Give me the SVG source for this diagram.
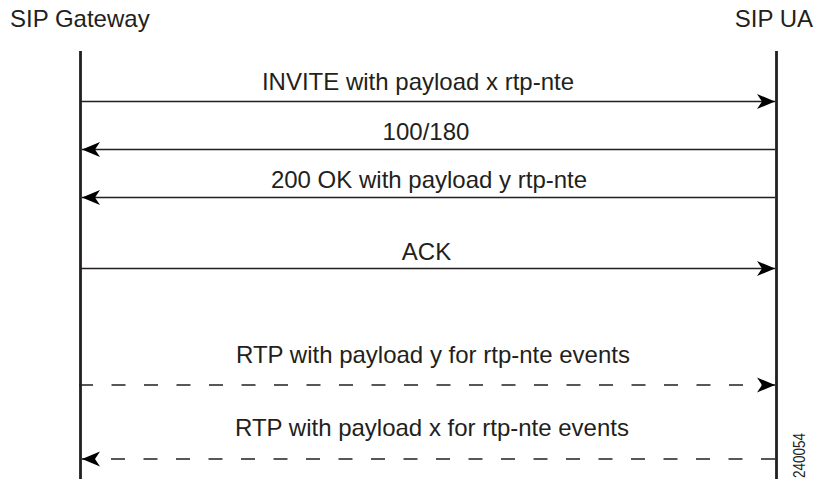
<svg xmlns="http://www.w3.org/2000/svg" width="814" height="480" viewBox="0 0 814 480">
<style>
text{font-family:"Liberation Sans",Arial,sans-serif;font-size:24px;fill:#231f20}
.life{stroke:#231f20;stroke-width:2.8;fill:none}
.msg{stroke:#231f20;stroke-width:1.6;fill:none}
.dash{stroke-dasharray:14 18.5}
.mid{text-anchor:middle}
</style>
<defs>
<marker id="ah" viewBox="0 0 18 16" refX="18" refY="8" markerWidth="18" markerHeight="16" markerUnits="userSpaceOnUse" orient="auto">
<path d="M18,8 L0,0.5 L5,8 L0,15.5 Z" fill="#000"/>
</marker>
</defs>
<g id="sip-gateway">
<text x="10" y="27">SIP Gateway</text>
<line class="life" x1="80.5" y1="51" x2="80.5" y2="479"/>
</g>
<g id="sip-ua">
<text x="813" y="27" text-anchor="end">SIP UA</text>
<line class="life" x1="776.5" y1="51" x2="776.5" y2="479"/>
</g>
<g id="connectors">
<line class="msg" x1="81" y1="101.5" x2="775" y2="101.5" marker-end="url(#ah)"/>
<text class="mid" x="418" y="90">INVITE with payload x rtp-nte</text>
<line class="msg" x1="775" y1="149.5" x2="82" y2="149.5" marker-end="url(#ah)"/>
<text class="mid" x="426" y="140">100/180</text>
<line class="msg" x1="775" y1="197.5" x2="82" y2="197.5" marker-end="url(#ah)"/>
<text class="mid" x="429" y="188">200 OK with payload y rtp-nte</text>
<line class="msg" x1="81" y1="268.5" x2="775" y2="268.5" marker-end="url(#ah)"/>
<text class="mid" x="426.5" y="259.5">ACK</text>
<line class="msg dash" x1="79" y1="385" x2="775" y2="385" marker-end="url(#ah)"/>
<text class="mid" x="433" y="363">RTP with payload y for rtp-nte events</text>
<line class="msg dash" x1="775" y1="459" x2="82" y2="459" marker-end="url(#ah)"/>
<text class="mid" x="432" y="436">RTP with payload x for rtp-nte events</text>
</g>
<text transform="translate(805,478) rotate(-90)" style="font-size:17px" textLength="45" lengthAdjust="spacingAndGlyphs">240054</text>
</svg>
